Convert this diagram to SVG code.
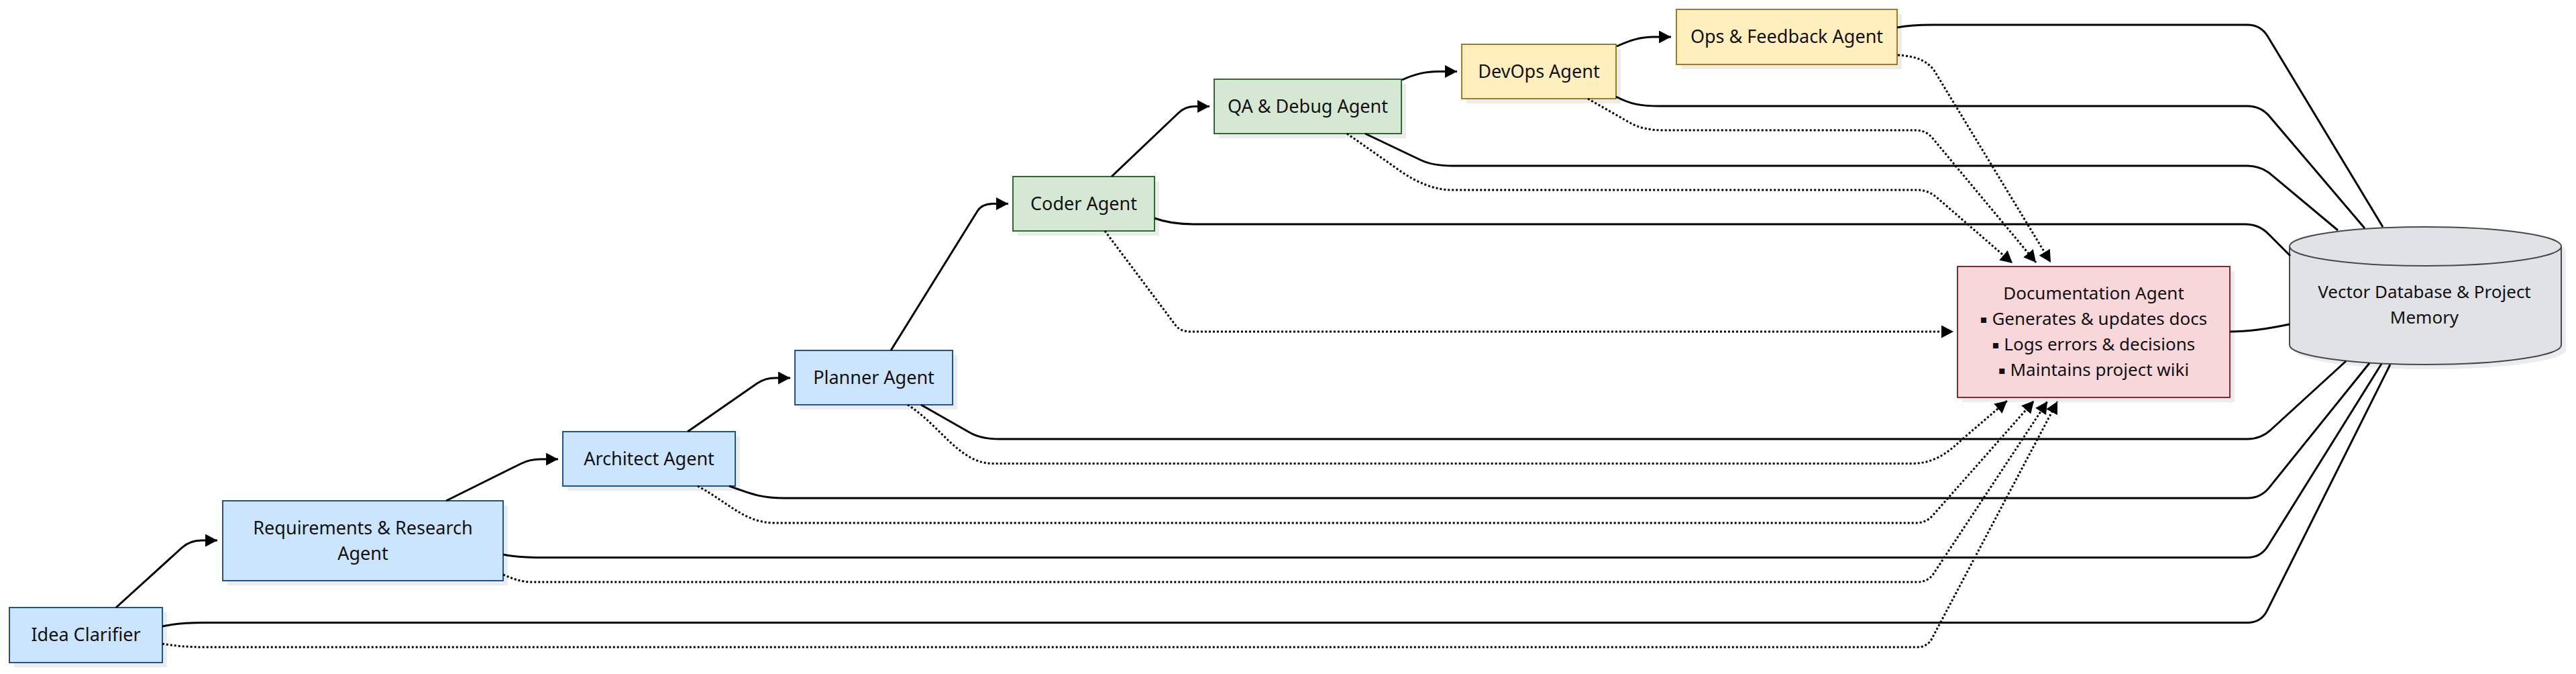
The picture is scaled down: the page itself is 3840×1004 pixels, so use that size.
<svg xmlns="http://www.w3.org/2000/svg" width="3840" height="1004" viewBox="0 0 3840 1004">
<style>
  .sh { fill:#ececec; stroke:none; }
  .blue { fill:#cce5ff; stroke:#1d5491; stroke-width:2; }
  .green { fill:#d5e8d4; stroke:#2d6a30; stroke-width:2; }
  .yellow { fill:#ffefbd; stroke:#a07d1c; stroke-width:2; }
  .pink { fill:#f8d7da; stroke:#7f2d35; stroke-width:2; }
  .db { fill:#e1e2e5; stroke:#45484d; stroke-width:2; }
  .t { font-family:"Noto Sans","Open Sans","DejaVu Sans",sans-serif; font-size:27px; fill:#111111; text-anchor:middle; }
  .td { font-family:"Noto Sans","Open Sans","DejaVu Sans",sans-serif; font-size:26px; fill:#111111; text-anchor:middle; }
  .bul { font-size:16px; }
  .flow { fill:none; stroke:#000; stroke-width:3; marker-end:url(#arr); }
  .mem { fill:none; stroke:#000; stroke-width:3; }
  .doc { fill:none; stroke:#000; stroke-width:3; stroke-dasharray:3 3; marker-end:url(#arr); }
</style>
<defs>
  <marker id="arr" markerUnits="userSpaceOnUse" markerWidth="20" markerHeight="20" refX="18" refY="9.5" orient="auto">
    <path d="M0,0 L18,9.5 L0,19 Z" fill="#000"/>
  </marker>
</defs>
<rect width="3840" height="1004" fill="#ffffff"/>

<g id="idea-clarifier">
  <rect class="sh" x="21" y="912" width="228" height="82"/>
  <rect class="blue" x="14" y="905" width="228" height="82"/>
  <text class="t" x="128" y="955">Idea Clarifier</text>
</g>
<g id="requirements-agent">
  <rect class="sh" x="339" y="753" width="418" height="119"/>
  <rect class="blue" x="332" y="746" width="418" height="119"/>
  <text class="t" x="541" y="796">Requirements &amp; Research</text>
  <text class="t" x="541" y="834">Agent</text>
</g>
<g id="architect-agent">
  <rect class="sh" x="846" y="650" width="257" height="81"/>
  <rect class="blue" x="839" y="643" width="257" height="81"/>
  <text class="t" x="967.5" y="692.5">Architect Agent</text>
</g>
<g id="planner-agent">
  <rect class="sh" x="1192" y="529" width="235" height="81"/>
  <rect class="blue" x="1185" y="522" width="235" height="81"/>
  <text class="t" x="1302.5" y="571.5">Planner Agent</text>
</g>
<g id="coder-agent">
  <rect class="sh" x="1517" y="270" width="211" height="81"/>
  <rect class="green" x="1510" y="263" width="211" height="81"/>
  <text class="t" x="1615.5" y="312.5">Coder Agent</text>
</g>
<g id="qa-debug-agent">
  <rect class="sh" x="1817" y="125" width="279" height="81"/>
  <rect class="green" x="1810" y="118" width="279" height="81"/>
  <text class="t" x="1949.5" y="167.5">QA &amp; Debug Agent</text>
</g>
<g id="devops-agent">
  <rect class="sh" x="2186" y="73" width="230" height="81"/>
  <rect class="yellow" x="2179" y="66" width="230" height="81"/>
  <text class="t" x="2294" y="115.5">DevOps Agent</text>
</g>
<g id="ops-feedback-agent">
  <rect class="sh" x="2506" y="21" width="329" height="82"/>
  <rect class="yellow" x="2499" y="14" width="329" height="82"/>
  <text class="t" x="2663.5" y="64">Ops &amp; Feedback Agent</text>
</g>
<g id="documentation-agent">
  <rect class="sh" x="2925" y="404" width="406" height="195"/>
  <rect class="pink" x="2918" y="397" width="406" height="195"/>
  <text class="td" x="3121" y="446">Documentation Agent</text>
  <text class="td" x="3121" y="484"><tspan class="bul" dy="-3">▪</tspan><tspan dy="3"> Generates &amp; updates docs</tspan></text>
  <text class="td" x="3121" y="522"><tspan class="bul" dy="-3">▪</tspan><tspan dy="3"> Logs errors &amp; decisions</tspan></text>
  <text class="td" x="3121" y="560"><tspan class="bul" dy="-3">▪</tspan><tspan dy="3"> Maintains project wiki</tspan></text>
</g>
<g id="vector-db">
  <path class="sh" d="M3420,374 A202.5,29 0 0 1 3825,374 L3825,521 A202.5,29 0 0 1 3420,521 Z"/>
  <path class="db" d="M3413,367 A202.5,29 0 0 1 3818,367 L3818,514 A202.5,29 0 0 1 3413,514 Z"/>
  <path class="db" d="M3413,367 A202.5,29 0 0 0 3818,367" fill="none"/>
  <text class="td" x="3614" y="444">Vector Database &amp; Project</text>
  <text class="td" x="3614" y="482">Memory</text>
</g>

<g id="connectors">
  <!-- main flow -->
  <path class="flow" d="M173,905 L271,816 Q283,805 300,805 L324,805"/>
  <path class="flow" d="M665,746 L777,690.5 Q790,684 806,684 L832,684"/>
  <path class="flow" d="M1025,643 L1128,571.5 Q1140,563 1156,563 L1178,563"/>
  <path class="flow" d="M1328,522 L1457,314.5 Q1464,303.5 1480,303.5 L1503,303.5"/>
  <path class="flow" d="M1657,263 L1757,168 Q1767,158.5 1782,158.5 L1803,158.5"/>
  <path class="flow" d="M2090,119 C2110,110 2125,106.5 2145,106.5 L2172,106.5"/>
  <path class="flow" d="M2410,69 C2430,60 2445,55 2465,55 L2491,55"/>

  <!-- memory links to vector database -->
  <path class="mem" d="M242,933 C260,929 278,927.5 305,927.5 L3350,927.5 Q3370.5,927.5 3379.5,909.6 L3563,543"/>
  <path class="mem" d="M750,826 C770,830 790,830.5 815,830.5 L3350,830.5 Q3370,830.5 3380.6,813.5 L3550,542"/>
  <path class="mem" d="M1087,724 C1120,736 1135,742 1170,742 L3350,742 Q3370,742 3382.6,726.4 L3532,541"/>
  <path class="mem" d="M1373,603 L1445,644 Q1462,654 1490,654 L3350,654 Q3370,654 3384.8,640.5 L3497,538"/>
  <path class="mem" d="M1721,325 Q1745,334 1780,334 L3347,334 Q3367,334 3381,348 L3414,381"/>
  <path class="mem" d="M2035,199 L2117,238 Q2135,247 2165,247 L3350,247 Q3370,247 3385.4,259.8 L3485,343"/>
  <path class="mem" d="M2409,144 C2430,155 2445,158 2475,158 L3350,158 Q3370,158 3383,173.2 L3525,340"/>
  <path class="mem" d="M2828,41 Q2848,37 2880,37 L3350,37 Q3370,37 3380.3,54.1 L3552,338"/>
  <path class="mem" d="M3324,494 C3350,494 3380,490 3413,483"/>

  <!-- documentation links -->
  <path class="doc" d="M242,959 C260,962 280,964 306,964 L2858,964 Q2873,964 2880,951 L3067,598"/>
  <path class="doc" d="M750,856 C765,862 775,867 795,867 L2858,867 Q2874,867 2882,855 L3052,598"/>
  <path class="doc" d="M1040,724 C1085,748 1110,779 1155,779 L2856,779 Q2871,779 2881,768 L3032,597"/>
  <path class="doc" d="M1353,603 C1400,632 1430,690.5 1480,690.5 L2850,690.5 C2885,690.5 2905,673 2930,650 L2992,597"/>
  <path class="doc" d="M1647,344 L1752,484 Q1759,494 1775,494 L2912,494"/>
  <path class="doc" d="M2008,199 L2085,253 Q2127,283 2165,283 L2858,283 Q2874,283 2887,294 L3000,392"/>
  <path class="doc" d="M2367,147 L2430,183 Q2449,194 2480,194 L2856,194 Q2871,194 2881,206 L3035,391"/>
  <path class="doc" d="M2829,82 C2855,84 2868,88 2882,103 L3057,391"/>
</g>
</svg>
